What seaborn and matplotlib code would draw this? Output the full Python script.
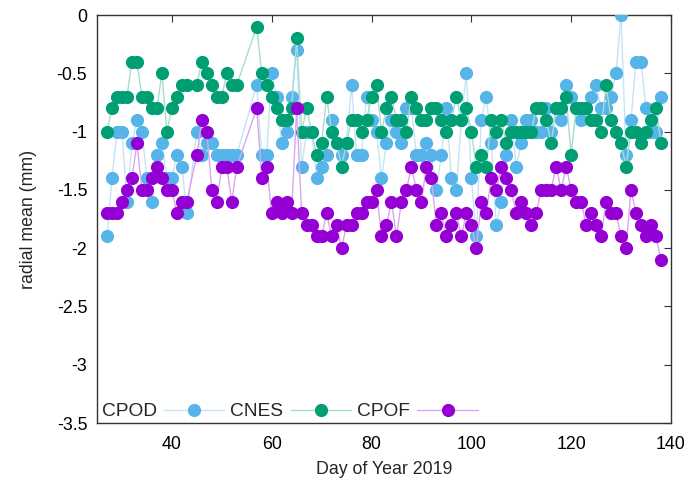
import numpy as np
import pandas as pd
import matplotlib
matplotlib.use("Agg")
import matplotlib.pyplot as plt
import matplotlib.colors as mcolors
import seaborn as sns

days = [d for d in range(27, 139) if d not in (44, 54, 55, 56)]

cpod = [-1.9, -1.4, -1.0, -1.0, -1.6, -1.1, -0.9, -1.0, -1.4, -1.6, -1.2, -1.1, -1.4, -1.4,
        -1.2, -1.3, -1.7, -1.0, -1.2, -1.1, -1.1, -1.2, -1.2, -1.2, -1.2, -1.2,
        -0.6, -1.2, -1.2, -0.5, -0.7, -1.1, -1.0, -0.7, -0.3, -1.3, -1.0, -1.0, -1.4, -1.3,
        -1.2, -0.9, -1.1, -1.2, -1.1, -0.6, -1.2, -1.2, -0.7, -0.9, -1.0, -1.4, -1.1, -0.9,
        -1.0, -1.1, -0.8, -0.8, -1.2, -1.2, -1.1, -1.2, -1.5, -1.2, -0.8, -1.4, -1.5, -0.9,
        -0.5, -1.4, -1.9, -0.9, -0.7, -1.1, -1.8, -1.6, -1.2, -0.9, -1.3, -1.1, -0.9, -0.9,
        -1.0, -1.0, -0.8, -1.0, -0.8, -0.9, -0.6, -0.7, -0.8, -0.9, -0.8, -0.7, -0.6, -0.8,
        -0.8, -0.7, -0.5, 0.0, -1.2, -0.9, -0.4, -0.4, -0.8, -1.0, -1.0, -0.7]

cnes = [-1.0, -0.8, -0.7, -0.7, -0.7, -0.4, -0.4, -0.7, -0.7, -0.8, -0.8, -0.5, -1.0, -0.8,
        -0.7, -0.6, -0.6, -0.6, -0.4, -0.5, -0.6, -0.7, -0.7, -0.5, -0.6, -0.6,
        -0.1, -0.5, -0.6, -0.7, -0.8, -0.9, -0.9, -0.8, -0.2, -1.0, -0.8, -1.0, -1.2, -1.1,
        -0.7, -1.0, -1.1, -1.3, -1.1, -0.9, -0.9, -1.0, -0.9, -0.7, -0.6, -1.0, -0.8, -0.7,
        -0.9, -0.9, -1.0, -0.7, -0.8, -0.9, -0.9, -0.8, -0.8, -0.9, -1.0, -0.9, -0.7, -0.9,
        -0.8, -1.0, -1.3, -1.2, -1.3, -0.9, -1.0, -0.9, -1.1, -1.0, -1.0, -1.0, -1.0, -1.0,
        -0.8, -0.8, -0.9, -1.1, -0.8, -0.8, -0.7, -1.2, -0.8, -0.8, -0.8, -0.9, -0.9, -1.0,
        -0.6, -0.9, -1.0, -1.1, -1.3, -1.0, -1.0, -1.1, -1.0, -0.9, -0.8, -1.1]

cpof = [-1.7, -1.7, -1.7, -1.6, -1.5, -1.4, -1.1, -1.5, -1.5, -1.4, -1.3, -1.4, -1.5, -1.5,
        -1.7, -1.6, -1.6, -1.2, -0.9, -1.0, -1.5, -1.6, -1.3, -1.3, -1.6, -1.3,
        -0.8, -1.4, -1.3, -1.7, -1.6, -1.7, -1.6, -1.7, -0.8, -1.7, -1.8, -1.8, -1.9, -1.9,
        -1.7, -1.9, -1.8, -2.0, -1.8, -1.8, -1.7, -1.7, -1.6, -1.6, -1.5, -1.9, -1.8, -1.6,
        -1.9, -1.6, -1.5, -1.3, -1.5, -1.6, -1.3, -1.4, -1.8, -1.7, -1.9, -1.8, -1.7, -1.9,
        -1.7, -1.8, -2.0, -1.6, -1.7, -1.4, -1.5, -1.3, -1.4, -1.5, -1.7, -1.6, -1.7, -1.8,
        -1.7, -1.5, -1.5, -1.5, -1.3, -1.5, -1.3, -1.5, -1.6, -1.6, -1.8, -1.7, -1.8, -1.9,
        -1.6, -1.7, -1.7, -1.9, -2.0, -1.5, -1.7, -1.8, -1.9, -1.8, -1.9, -2.1]

series_names = ["CPOD", "CNES", "CPOF"]
series_colors = ["#56b4e9", "#009e73", "#9400d3"]
x_ticks = [40, 60, 80, 100, 120, 140]
y_ticks = [0, -0.5, -1, -1.5, -2, -2.5, -3, -3.5]

df = pd.concat([
    pd.DataFrame({"day": days, "value": vals, "series": name})
    for name, vals in zip(series_names, [cpod, cnes, cpof])
], ignore_index=True)

sns.set_theme(style="white")
plt.rcParams["font.family"] = ["Liberation Sans", "DejaVu Sans"]
plt.rcParams["axes.unicode_minus"] = False

fig = plt.figure(figsize=(6.91, 4.84), dpi=100)
ax = fig.add_axes([0.1404, 0.126, 0.8306, 0.843])

palette = dict(zip(series_names, series_colors))
sns.lineplot(data=df, x="day", y="value", hue="series", hue_order=series_names,
             palette=palette, estimator=None, sort=True, marker="o", markersize=9.5,
             markeredgewidth=0, linewidth=1.0, ax=ax, legend=False)

handles = []
for line, name, col in zip(ax.lines, series_names, series_colors):
    rgb = np.array(mcolors.to_rgb(col))
    light = 1 - 0.35 * (1 - rgb)
    line.set_color(light)
    line.set_markerfacecolor(col)
    line.set_markeredgecolor(col)
    line.set_zorder(3)
    line.set_label(name)
    handles.append(line)

fs = 12.8
ax.set_xlim(25, 140)
ax.set_ylim(-3.5, 0)
ax.set_xticks(x_ticks)
ax.set_yticks(y_ticks)
ax.set_yticklabels(["%g" % v for v in y_ticks])
ax.set_xticklabels([str(v) for v in x_ticks])
ax.tick_params(axis="both", direction="in", length=5, width=0.8, top=True, right=True,
               labelsize=fs, colors="#333333", labelcolor="black")
ax.tick_params(axis="x", pad=9)
ax.tick_params(axis="y", pad=7)
for sp in ax.spines.values():
    sp.set_color("#333333")
    sp.set_linewidth(1.0)
ax.set_xlabel("Day of Year 2019", fontsize=fs, labelpad=6)
ax.set_ylabel("radial mean (mm)", fontsize=fs, labelpad=14)

leg = ax.legend(handles=handles, labels=series_names, loc="lower left", ncol=3,
                frameon=False, markerfirst=False, handlelength=3.15, handletextpad=0.38,
                columnspacing=0.32, fontsize=13.8, bbox_to_anchor=(-0.012, -0.022),
                borderaxespad=0.2)

fig.savefig("out.png", dpi=100)
